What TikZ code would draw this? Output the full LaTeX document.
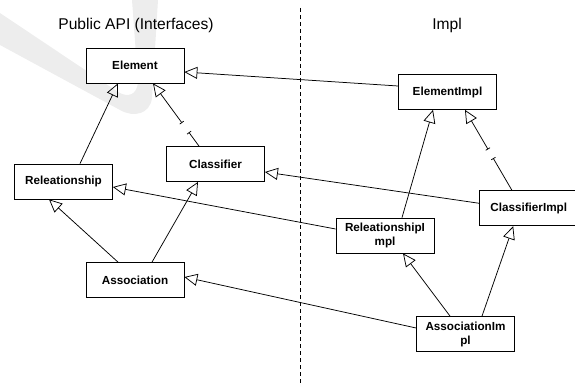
\documentclass[tikz,border=0pt]{standalone}
\usepackage{fontspec}
\setmainfont{Liberation Sans}
\usetikzlibrary{arrows.meta,calc}
\begin{document}
\begin{tikzpicture}[x=1pt,y=-1pt,
  cls/.style={draw, fill=white, line width=0.75pt, minimum width=98pt, minimum height=35pt,
    inner sep=0pt, align=center, font=\fontsize{11.7}{14}\selectfont\bfseries},
  ttl/.style={font=\fontsize{15.6}{18}\selectfont, inner sep=0pt},
  gen/.style={line width=0.75pt, -{Triangle[open,length=13pt,width=12pt]}},
  half/.style={line width=0.75pt, -{Bar[width=5pt]}},
  halfb/.style={line width=0.75pt, {Bar[width=5pt]}-{Triangle[open,length=13pt,width=12pt]}},
  sep/.style={line width=0.75pt, dash pattern=on 4pt off 3pt}]
\useasboundingbox (0,0) rectangle (575,385);
\begin{scope}
\clip (0,0) rectangle (575,385);
% watermark
\fill[black!7] (0,13) -- (118,92) .. controls (128,98) and (137,95) .. (138,82)
  -- (132,0) -- (158,0) -- (152,98) .. controls (150,114) and (134,118) .. (120,110)
  -- (0,45) -- cycle;
% titles
\node[ttl] (tpub) at (136,25) {Public API (Interfaces)};
\node[ttl] (timpl) at (447,25) {Impl};
% separator
\coordinate (dtop) at (300.7,8);
\coordinate (dbot) at (300.7,385);
\draw[sep] (dtop) -- (dbot);
% boxes
\node[cls] (el)  at (135,65.5)  {Element};
\node[cls] (cl)  at (215.5,164) {Classifier};
\node[cls] (rel) at (63.5,181.5) {Releationship};
\node[cls] (as)  at (135,280)   {Association};
\node[cls] (ei)  at (447.5,92)  {ElementImpl};
\node[cls] (ci)  at (528.7,208.3) {ClassifierImpl};
\node[cls] (ri)  at (385,235.5) {ReleationshipI\\mpl};
\node[cls] (ai)  at (465.5,334) {AssociationIm\\pl};
% generalizations
\draw[gen] ([yshift=6pt]ei.west) -- ([yshift=-6.5pt]el.east);
\draw[gen] ([xshift=16.5pt]rel.north) -- ([xshift=-17pt]el.south);
\draw[gen] ([xshift=17pt]ri.north) -- ([xshift=-14.5pt]ei.south);
\draw[gen] ([yshift=5pt]ci.west) -- ([yshift=-8pt]cl.east);
\draw[gen] ([yshift=6.5pt]ri.west) -- ([yshift=-5.5pt]rel.east);
\draw[gen] ([xshift=17pt]as.north) -- ([xshift=-17.5pt]cl.south);
\draw[gen] ([xshift=-17pt]as.north) -- ([xshift=-14.5pt]rel.south);
\draw[gen] ([yshift=6pt]ai.west) -- ([yshift=3pt]as.east);
\draw[gen] ([xshift=-15.5pt]ai.north) -- ([xshift=18pt]ri.south);
\draw[gen] ([xshift=16.5pt]ai.north) -- ([xshift=-15.5pt]ci.south);
% realizations with gap
\coordinate (s1) at ([xshift=-16.5pt]cl.north);
\coordinate (e1) at ([xshift=18pt]el.south);
\draw[half] (s1) -- ($(s1)!0.22!(e1)$);
\draw[halfb] ($(s1)!0.37!(e1)$) -- (e1);
\coordinate (s2) at ([xshift=-16.7pt]ci.north);
\coordinate (e2) at ([xshift=17.5pt]ei.south);
\draw[half] (s2) -- ($(s2)!0.40!(e2)$);
\draw[halfb] ($(s2)!0.51!(e2)$) -- (e2);
\end{scope}
\end{tikzpicture}
\end{document}
